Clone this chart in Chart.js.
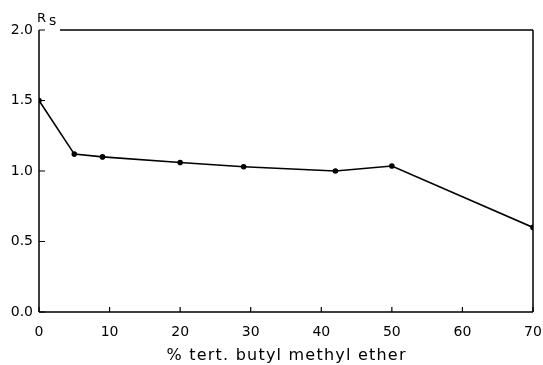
<!DOCTYPE html>
<html><head><meta charset="utf-8">
<script src="https://cdn.jsdelivr.net/npm/chart.js@4/dist/chart.umd.min.js"></script>
<style>html,body{margin:0;padding:0;background:#fff}#wrap{width:543px;height:365px;position:relative}</style>
</head><body><div id="wrap"><canvas id="c" width="543" height="365"></canvas></div>
<script>
const etherPercent = [0, 5, 9, 20, 29, 42, 50, 70];
const resolution = [1.50, 1.12, 1.10, 1.06, 1.03, 1.00, 1.035, 0.60];
const xTicks = [0, 10, 20, 30, 40, 50, 60, 70];
const yTicks = [0.0, 0.5, 1.0, 1.5, 2.0];
const xTitle = '% tert. butyl methyl ether';

const FONT = '"DejaVu Sans", "Liberation Sans", Arial, sans-serif';

const framePlugin = {
  id: 'frame',
  afterDraw(chart) {
    const {ctx, chartArea: a, scales: {x, y}} = chart;
    ctx.save();
    ctx.strokeStyle = '#000';
    ctx.lineWidth = 1.5;
    ctx.beginPath();
    ctx.moveTo(a.left, a.bottom); ctx.lineTo(a.right, a.bottom);
    ctx.moveTo(a.left, a.bottom); ctx.lineTo(a.left, a.top);
    ctx.moveTo(a.right, a.bottom); ctx.lineTo(a.right, a.top);
    ctx.moveTo(a.left + 21, a.top); ctx.lineTo(a.right, a.top);
    ctx.stroke();
    ctx.lineWidth = 1.2;
    ctx.beginPath();
    xTicks.forEach(v => { const px = x.getPixelForValue(v); ctx.moveTo(px, a.bottom); ctx.lineTo(px, a.bottom - 5); });
    yTicks.forEach(v => { const py = y.getPixelForValue(v); ctx.moveTo(a.left, py); ctx.lineTo(a.left + 6, py); });
    ctx.stroke();
    ctx.fillStyle = '#000';
    ctx.textAlign = 'left'; ctx.textBaseline = 'alphabetic';
    ctx.font = '13px ' + FONT;
    ctx.fillText('R', 37, 22);
    ctx.font = '14px ' + FONT;
    ctx.fillText('s', 49, 25);
    // x-axis title, spread to match the reference width
    ctx.font = '16px ' + FONT;
    const n = xTitle.length;
    const w0 = ctx.measureText(xTitle).width;
    const target = 239;
    ctx.letterSpacing = Math.max(0, (target - w0) / (n - 1)) + 'px';
    const cx = (a.left + a.right) / 2;
    ctx.fillText(xTitle, cx - target / 2, 360);
    ctx.restore();
  }
};

new Chart(document.getElementById('c'), {
  type: 'line',
  data: {
    datasets: [{
      data: etherPercent.map((v, i) => ({x: v, y: resolution[i]})),
      borderColor: '#000', backgroundColor: '#000',
      borderWidth: 1.6, pointRadius: 2, pointHoverRadius: 2, tension: 0
    }]
  },
  options: {
    responsive: false, animation: false, events: [],
    layout: {padding: {top: 30, right: 10, left: 0, bottom: 0}},
    plugins: {legend: {display: false}, tooltip: {enabled: false}},
    scales: {
      x: {
        type: 'linear', min: 0, max: 70,
        afterBuildTicks: s => { s.ticks = xTicks.map(v => ({value: v})); },
        afterFit: s => { s.height = 53; s.paddingLeft = 0; s.paddingRight = 0; },
        grid: {display: false, drawTicks: false},
        border: {display: false},
        ticks: {color: '#000', font: {family: FONT, size: 14}, padding: 12, maxRotation: 0},
        title: {display: false}
      },
      y: {
        min: 0, max: 2,
        afterBuildTicks: s => { s.ticks = yTicks.map(v => ({value: v})); },
        afterFit: s => { s.width = 39; s.paddingTop = 0; s.paddingBottom = 0; },
        grid: {display: false, drawTicks: false},
        border: {display: false},
        ticks: {color: '#000', font: {family: FONT, size: 14}, padding: 6, callback: v => v.toFixed(1)}
      }
    }
  },
  plugins: [framePlugin]
});
</script></body></html>
